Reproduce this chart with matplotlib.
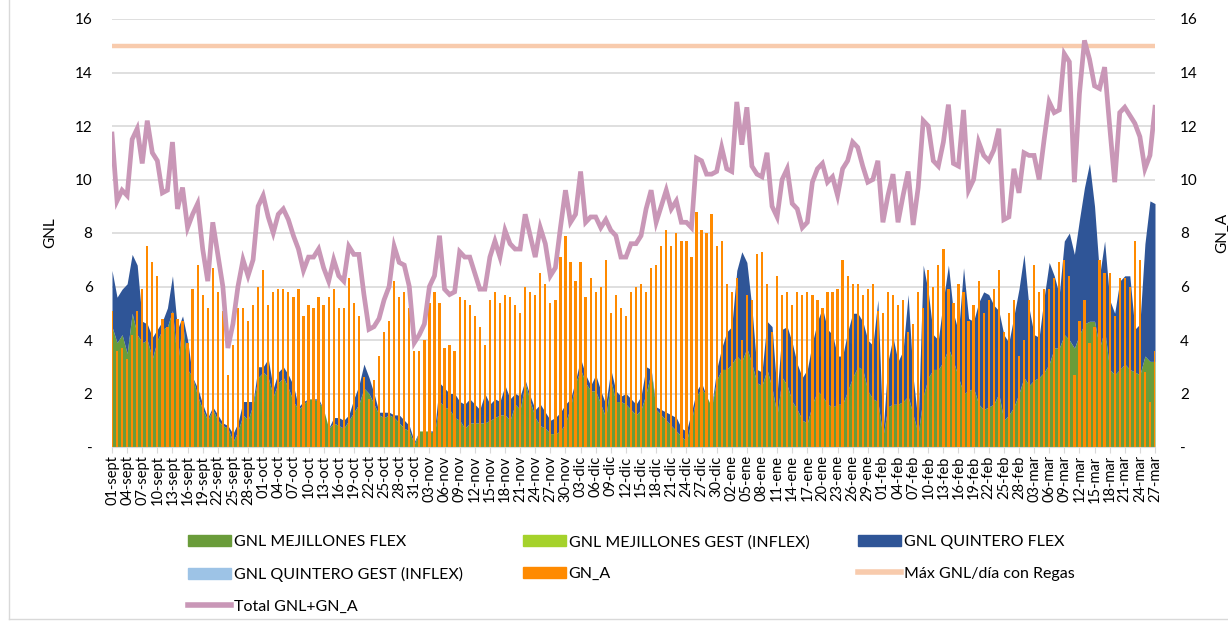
import numpy as np
import matplotlib
matplotlib.use("Agg")
import matplotlib.pyplot as plt
from matplotlib.lines import Line2D
from matplotlib.patches import Patch

plt.rcParams["font.family"] = ["Lato", "DejaVu Sans"]

# daily values, 01-sept .. 27-mar
gnl_mejillones_flex = [
    4.5, 3.9, 4.2, 3.5, 5.0, 4.2, 3.9, 4.0, 3.3, 4.0,
    4.4, 4.5, 5.1, 3.1, 4.7, 2.9, 2.6, 1.9, 1.4, 1.0,
    1.4, 1.0, 0.8, 0.7, 0.2, 0.6, 1.2, 1.0, 1.6, 2.6,
    2.8, 2.6, 1.9, 2.4, 2.6, 2.2, 1.7, 1.4, 1.6, 1.8,
    1.8, 1.7, 1.4, 0.7, 0.9, 0.8, 0.7, 1.0, 1.3, 1.6,
    2.2, 2.0, 1.6, 1.2, 1.1, 1.2, 1.1, 0.9, 0.7, 0.6,
    0.1, 0.6, 0.6, 0.6, 0.5, 1.7, 1.5, 1.4, 1.1, 1.0,
    0.7, 0.9, 0.9, 0.9, 0.9, 1.0, 1.1, 1.2, 1.2, 1.0,
    1.6, 1.4, 2.4, 1.7, 1.1, 0.8, 0.7, 0.5, 0.5, 0.6,
    0.9, 1.5, 2.4, 2.9, 2.4, 2.1, 2.1, 1.6, 1.1, 2.5,
    1.7, 1.7, 1.6, 1.4, 1.2, 1.4, 2.0, 2.8, 1.4, 1.2,
    1.0, 0.8, 0.6, 0.4, 0.2, 1.0, 1.9, 2.2, 1.9, 1.5,
    2.5, 2.9, 2.9, 3.1, 3.4, 3.2, 3.7, 3.1, 2.4, 2.3,
    2.9, 2.2, 1.2, 2.6, 2.3, 1.7, 1.4, 1.0, 0.9, 1.6,
    2.1, 1.9, 1.6, 1.5, 1.6, 1.6, 2.1, 2.6, 3.0, 2.9,
    2.1, 1.8, 1.7, 0.4, 1.5, 1.6, 1.6, 1.7, 1.9, 1.2,
    0.5, 1.9, 2.6, 2.9, 2.9, 3.2, 3.7, 3.2, 2.6, 2.0,
    2.1, 2.2, 1.6, 1.4, 1.5, 1.6, 2.0, 1.0, 1.2, 1.5,
    2.0, 2.6, 2.3, 2.5, 2.6, 2.8, 3.1, 3.7, 3.7, 4.2,
    4.0, 3.7, 4.2, 4.6, 4.7, 4.7, 3.7, 4.4, 2.9, 2.7,
    2.9, 3.1, 2.9, 2.8, 2.7, 3.4, 3.2, 3.2,
]

# top of the stacked GNL area (Mejillones + Quintero)
gnl_total = [
    6.6, 5.6, 5.9, 6.1, 7.2, 6.8, 4.7, 4.6, 4.1, 4.4,
    4.7, 5.2, 6.4, 4.4, 4.9, 4.0, 2.6, 2.2, 1.6, 1.1,
    1.5, 1.2, 0.9, 0.8, 0.5, 0.9, 1.7, 1.7, 1.7, 3.0,
    3.0, 3.3, 2.2, 2.8, 3.0, 2.7, 2.3, 1.5, 1.7, 1.8,
    1.8, 1.8, 1.4, 0.7, 1.1, 1.1, 1.0, 1.2, 1.8, 2.3,
    3.1, 2.6, 2.0, 1.3, 1.3, 1.3, 1.2, 1.2, 1.0, 0.8,
    0.2, 0.6, 0.6, 0.6, 0.6, 2.4, 2.2, 2.0, 2.0, 1.7,
    1.6, 1.8, 1.6, 1.4, 2.0, 1.6, 1.8, 1.7, 2.3, 1.8,
    2.0, 1.9, 2.5, 1.9, 1.4, 1.6, 1.3, 1.0, 1.1, 1.3,
    1.6, 1.8, 2.5, 3.3, 2.7, 2.3, 2.7, 2.1, 1.6, 2.9,
    2.1, 1.9, 2.0, 1.8, 1.6, 1.9, 3.0, 2.9, 1.5, 1.4,
    1.3, 1.2, 1.1, 0.7, 0.6, 1.3, 2.1, 2.4, 1.9, 1.5,
    2.9, 3.7, 4.3, 4.5, 6.6, 7.3, 6.9, 5.2, 2.9, 2.8,
    4.7, 4.5, 2.0, 4.4, 4.5, 3.9, 3.1, 2.6, 2.9, 3.9,
    4.7, 5.2, 4.4, 4.2, 3.4, 3.4, 4.3, 5.0, 5.0, 4.7,
    4.0, 3.8, 5.5, 0.5, 3.2, 4.1, 3.2, 3.6, 5.7, 2.6,
    0.9, 6.8, 5.8, 4.2, 4.0, 5.5, 6.8, 5.0, 4.3, 6.7,
    4.8, 4.7, 5.4, 5.8, 5.7, 5.3, 5.1, 4.2, 3.9, 4.9,
    5.9, 7.2, 5.2, 4.2, 4.1, 5.6, 6.9, 6.4, 5.7, 7.7,
    8.0, 7.2, 8.5, 9.7, 10.6, 9.0, 6.4, 7.7, 5.5, 5.0,
    6.2, 6.4, 6.4, 4.4, 4.6, 7.6, 9.2, 9.1,
]

gn_a = [
    5.1, 3.6, 3.7, 3.3, 4.2, 5.1, 5.9, 7.5, 6.9, 6.4,
    4.8, 4.5, 5.0, 4.8, 4.7, 3.9, 5.9, 6.8, 5.7, 5.2,
    6.7, 5.8, 5.1, 2.7, 3.8, 5.2, 5.2, 4.7, 5.3, 6.0,
    6.6, 5.3, 5.8, 5.9, 5.9, 5.8, 5.6, 5.9, 4.9, 5.3,
    5.2, 5.6, 5.3, 5.6, 5.9, 5.2, 5.2, 6.3, 5.4, 4.9,
    2.6, 1.8, 2.5, 3.4, 4.3, 4.7, 6.2, 5.6, 5.8, 5.2,
    3.6, 3.6, 4.0, 5.4, 5.8, 5.4, 3.7, 3.8, 3.6, 5.6,
    5.5, 5.3, 4.9, 4.5, 3.8, 5.5, 5.8, 5.4, 5.7, 5.6,
    5.3, 5.0, 6.0, 5.8, 5.7, 6.5, 6.1, 5.4, 5.5, 7.1,
    7.9, 6.9, 6.2, 6.9, 5.6, 6.3, 5.8, 6.0, 7.0, 5.0,
    5.7, 5.2, 4.9, 5.8, 6.0, 6.1, 5.8, 6.7, 6.8, 7.5,
    8.1, 7.5, 8.0, 7.7, 7.7, 7.1, 8.8, 8.1, 8.0, 8.7,
    7.5, 7.7, 6.1, 5.8, 6.3, 4.0, 5.7, 5.5, 7.2, 7.3,
    6.1, 4.3, 6.4, 5.7, 5.8, 5.3, 5.8, 5.7, 5.8, 5.7,
    5.5, 5.2, 5.8, 5.8, 5.9, 7.0, 6.4, 6.1, 6.1, 5.7,
    5.9, 6.1, 5.1, 5.0, 5.8, 5.7, 5.3, 5.5, 4.3, 4.6,
    5.8, 5.2, 6.6, 6.0, 6.8, 7.4, 5.9, 5.4, 6.1, 5.8,
    4.7, 5.3, 6.2, 5.0, 5.5, 5.9, 6.6, 4.3, 5.0, 5.5,
    3.4, 4.0, 5.5, 6.8, 5.8, 5.9, 5.9, 6.3, 6.9, 7.0,
    6.4, 2.7, 4.7, 5.5, 3.9, 4.5, 7.0, 6.5, 6.5, 4.9,
    6.3, 6.3, 6.0, 7.7, 7.0, 2.8, 1.7, 3.6,
]

total_gnl_gna = [
    11.7, 9.2, 9.6, 9.4, 11.5, 11.9, 10.6, 12.2, 11.0, 10.7,
    9.5, 9.6, 11.4, 8.9, 9.7, 8.2, 8.7, 9.1, 7.4, 6.2,
    8.4, 7.2, 6.0, 3.7, 4.6, 6.0, 7.0, 6.4, 7.0, 9.0,
    9.4, 8.6, 8.0, 8.7, 8.9, 8.5, 7.9, 7.4, 6.6, 7.1,
    7.1, 7.4, 6.7, 6.2, 7.0, 6.4, 6.2, 7.5, 7.2, 7.2,
    5.7, 4.4, 4.5, 4.8, 5.5, 6.0, 7.5, 6.9, 6.8, 6.0,
    3.9, 4.2, 4.6, 6.0, 6.4, 7.9, 5.9, 5.7, 5.8, 7.3,
    7.1, 7.1, 6.5, 5.9, 5.9, 7.1, 7.7, 7.1, 8.1, 7.6,
    7.4, 7.4, 8.7, 7.9, 7.1, 8.2, 7.6, 6.4, 6.7, 8.2,
    9.6, 8.4, 8.7, 10.3, 8.4, 8.6, 8.6, 8.2, 8.5, 8.1,
    7.9, 7.1, 7.1, 7.6, 7.6, 7.9, 8.9, 9.6, 8.4, 9.0,
    9.6, 8.9, 9.2, 8.4, 8.4, 8.2, 10.8, 10.7, 10.2, 10.2,
    10.3, 11.2, 10.4, 10.3, 12.9, 11.3, 12.7, 10.5, 10.2, 10.1,
    11.0, 9.0, 8.6, 10.0, 10.4, 9.1, 8.9, 8.2, 8.4, 9.9,
    10.4, 10.6, 9.9, 10.1, 9.4, 10.4, 10.7, 11.4, 11.2, 10.5,
    9.9, 10.0, 10.7, 8.4, 9.4, 10.2, 8.4, 9.4, 10.3, 8.3,
    9.7, 12.2, 12.0, 10.7, 10.5, 11.4, 12.8, 10.6, 10.5, 12.6,
    9.6, 10.0, 11.4, 10.9, 10.7, 11.1, 11.9, 8.5, 8.6, 10.4,
    9.5, 11.0, 10.9, 10.9, 10.0, 11.5, 12.9, 12.5, 12.6, 14.7,
    14.4, 9.9, 13.2, 15.2, 14.5, 13.5, 13.4, 14.2, 12.0, 9.9,
    12.5, 12.7, 12.4, 12.1, 11.6, 10.4, 10.9, 12.7,
]

max_gnl_regas = 15.0

tick_labels = [
    "01-sept", "04-sept", "07-sept", "10-sept", "13-sept", "16-sept", "19-sept",
    "22-sept", "25-sept", "28-sept",
    "01-oct", "04-oct", "07-oct", "10-oct", "13-oct", "16-oct", "19-oct",
    "22-oct", "25-oct", "28-oct", "31-oct",
    "03-nov", "06-nov", "09-nov", "12-nov", "15-nov", "18-nov", "21-nov",
    "24-nov", "27-nov", "30-nov",
    "03-dic", "06-dic", "09-dic", "12-dic", "15-dic", "18-dic", "21-dic",
    "24-dic", "27-dic", "30-dic",
    "02-ene", "05-ene", "08-ene", "11-ene", "14-ene", "17-ene", "20-ene",
    "23-ene", "26-ene", "29-ene",
    "01-feb", "04-feb", "07-feb", "10-feb", "13-feb", "16-feb", "19-feb",
    "22-feb", "25-feb", "28-feb",
    "03-mar", "06-mar", "09-mar", "12-mar", "15-mar", "18-mar", "21-mar",
    "24-mar", "27-mar",
]

y_ticks = [0, 2, 4, 6, 8, 10, 12, 14, 16]
y_labels = ["-", "2", "4", "6", "8", "10", "12", "14", "16"]

c_mej_flex = "#6a9c3a"
c_mej_gest = "#a5d22b"
c_qui_flex = "#2f5597"
c_qui_gest = "#9dc3e6"
c_gna = "#ff8a00"
c_max = "#f8cbad"
c_total = "#c997b7"

x = np.arange(len(total_gnl_gna))

W, H = 1228, 623
fig = plt.figure(figsize=(W / 100, H / 100), dpi=100)
ax = fig.add_axes([112 / W, 1 - 447 / H, (1155 - 112) / W, (447 - 19) / H])
ax2 = ax.twinx()

# stacked GNL areas (primary axis)
ax.fill_between(x, 0, gnl_mejillones_flex, color=c_mej_flex, lw=0, zorder=2)
ax.fill_between(x, gnl_mejillones_flex, gnl_total, color=c_qui_flex, lw=0, zorder=2)

ax.set_xlim(0, len(x) - 1)
ax.set_ylim(0, 16)
ax.set_yticks(y_ticks, y_labels)
ax.grid(axis="y", color="#d9d9d9", lw=1.2, zorder=0)
ax.set_axisbelow(True)
for s in ["top", "right", "left"]:
    ax.spines[s].set_visible(False)
ax.spines["bottom"].set_color("#d9d9d9")
ax.tick_params(axis="y", length=0, pad=14, labelsize=11, labelcolor="#000000")
ax.set_xticks(x[::3], tick_labels, rotation=90)
ax.tick_params(axis="x", length=4, color="#d9d9d9", pad=2, labelsize=10.5)

# GN_A bars and lines (secondary axis)
ax2.bar(x, gn_a, width=0.45, color=c_gna, lw=0, zorder=3)
ax2.axhline(max_gnl_regas, color=c_max, lw=3.2, zorder=4)
ax2.plot(x, total_gnl_gna, color=c_total, lw=3.4, zorder=5, solid_joinstyle="miter")
ax2.set_ylim(0, 16)
ax2.set_yticks(y_ticks, y_labels)
ax2.tick_params(axis="y", length=0, pad=18, labelsize=11)
for s in ["top", "right", "left", "bottom"]:
    ax2.spines[s].set_visible(False)

fig.text(50 / W, 1 - 233 / H, "GNL", rotation=90, ha="center", va="center", fontsize=11)
fig.text(1222 / W, 1 - 233 / H, "GN_A", rotation=90, ha="center", va="center", fontsize=11)

# legend, three columns placed like the original
handles = {
    "GNL MEJILLONES FLEX": Patch(color=c_mej_flex),
    "GNL MEJILLONES GEST (INFLEX)": Patch(color=c_mej_gest),
    "GNL QUINTERO FLEX": Patch(color=c_qui_flex),
    "GNL QUINTERO GEST (INFLEX)": Patch(color=c_qui_gest),
    "GN_A": Patch(color=c_gna),
    "Máx GNL/día con Regas": Line2D([], [], color=c_max, lw=4),
    "Total GNL+GN_A": Line2D([], [], color=c_total, lw=4),
}
columns = [
    (188, ["GNL MEJILLONES FLEX", "GNL QUINTERO GEST (INFLEX)", "Total GNL+GN_A"]),
    (523, ["GNL MEJILLONES GEST (INFLEX)", "GN_A"]),
    (858, ["GNL QUINTERO FLEX", "Máx GNL/día con Regas"]),
]
for xpos, names in columns:
    fig.legend([handles[n] for n in names], names, loc="upper left",
               bbox_to_anchor=(xpos / W, 1 - 535 / H), frameon=False,
               fontsize=11.5, handlelength=2.7, handleheight=0.65,
               handletextpad=0.15, labelspacing=1.12, borderpad=0,
               borderaxespad=0)

# light frame of the chart area
fig.add_artist(Line2D([9 / W, 9 / W], [1 - 619 / H, 1], transform=fig.transFigure,
                      color="#d9d9d9", lw=1))
fig.add_artist(Line2D([9 / W, 1], [1 - 619 / H, 1 - 619 / H], transform=fig.transFigure,
                      color="#d9d9d9", lw=1))

fig.savefig("out.png", dpi=100)
